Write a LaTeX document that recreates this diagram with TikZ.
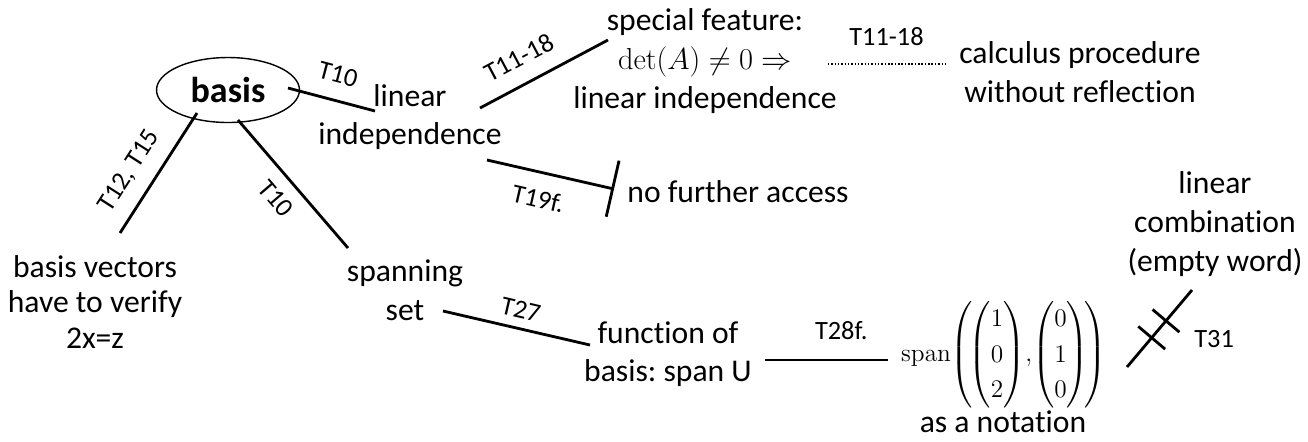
\documentclass[tikz,border=0pt]{standalone}
\usepackage{amsmath}
\usepackage[no-math]{fontspec}
\setmainfont{Carlito}[Ligatures=NoCommon]
\usetikzlibrary{shapes.geometric,arrows.meta,decorations.markings}
\begin{document}
\frenchspacing
\begin{tikzpicture}[x=0.02cm, y=-0.02cm, font=\fontsize{18}{22}\selectfont]
			\useasboundingbox (0,0) rectangle (1308,441);
			\tikzset{
				concept/.style={align=center, inner sep=0pt},
				link/.style={line width=1.6pt},
				tlabel/.style={font=\fontsize{15}{17}\selectfont, inner sep=3pt},
				blocked/.style={postaction={decorate}, decoration={markings,
					mark=at position 0.38 with {\draw[line width=1.6pt] (0pt,-10pt) -- (0pt,10pt);},
					mark=at position 0.6 with {\draw[line width=1.6pt] (0pt,-10pt) -- (0pt,10pt);}}}
			}
			% concepts
			\node[concept, ellipse, draw, line width=0.8pt, minimum width=2.86cm, minimum height=1.3cm,
				font=\fontsize{20.5}{22}\selectfont\bfseries] (basis) at (228,90) {basis};
			\node[concept] (linind) at (410,117) {linear\\independence};
			\node[concept] (special) at (705,61) {special feature:\\$\det(A)\neq 0\Rightarrow$\\linear independence};
			\node[concept] (calc) at (1080,72) {calculus procedure\\without reflection};
			\node[concept] (nofurther) at (738,192) {no further access};
			\node[concept, font=\fontsize{18}{20}\selectfont] (bvec) at (95,302) {basis vectors\\have to verify\\2x=z};
			\node[concept] (spanset) at (405,290) {spanning\\set};
			\node[concept] (func) at (668,354) {function of\\basis: span U};
			\node[concept, font=\fontsize{15}{20}\selectfont] (spanmat) at (1004,355)
				{$\mathrm{span}\!\left(\!\begin{pmatrix}1\\0\\2\end{pmatrix}\!,\!\begin{pmatrix}0\\1\\0\end{pmatrix}\!\right)$};
			\node[concept] (notation) at (1003,422) {as a notation};
			\node[concept] (lincomb) at (1215,224) {linear\\combination\\(empty word)};
			% connectors
			\draw[link] ([shift={(60,-2)}]basis.center) -- node[tlabel, sloped, above=6pt] {T10} ([shift={(-35,-6)}]linind.center);
			\draw[link] ([shift={(70,-9)}]linind.center) -- node[tlabel, sloped, above=6pt, pos=0.4] {T11-18} ([shift={(-97,-21)}]special.center);
			\draw[line width=1.4pt, dash pattern=on 0.8pt off 1.1pt] ([shift={(123,3)}]special.center) -- node[tlabel, above=7pt] {T11-18} ([shift={(-135,-8)}]calc.center);
			\draw[link, -{Bar[width=1.15cm]}] ([shift={(77,43)}]linind.center) -- node[tlabel, sloped, below=6pt, pos=0.45] {T19f.} ([shift={(-124,-3)}]nofurther.center);
			\draw[link] ([shift={(25,-69)}]bvec.center) -- node[tlabel, sloped, above=5pt, pos=0.4] {T12, T15} ([shift={(-31,23)}]basis.center);
			\draw[link] ([shift={(10,30)}]basis.center) -- node[tlabel, sloped, below=4pt] {T10} ([shift={(-57,-42)}]spanset.center);
			\draw[link] ([shift={(38,21)}]spanset.center) -- node[tlabel, sloped, above=2pt] {T27} ([shift={(-78,-9)}]func.center);
			\draw[link] ([shift={(97,6)}]func.center) -- node[tlabel, above=8pt, pos=0.62] {T28f.} ([shift={(-116,5)}]spanmat.center);
			\draw[link, blocked] ([shift={(123,12)}]spanmat.center) -- node[tlabel, pos=0.5, anchor=west, xshift=16pt, yshift=-6pt] {T31} ([shift={(-23,66)}]lincomb.center);
		\end{tikzpicture}
\end{document}
